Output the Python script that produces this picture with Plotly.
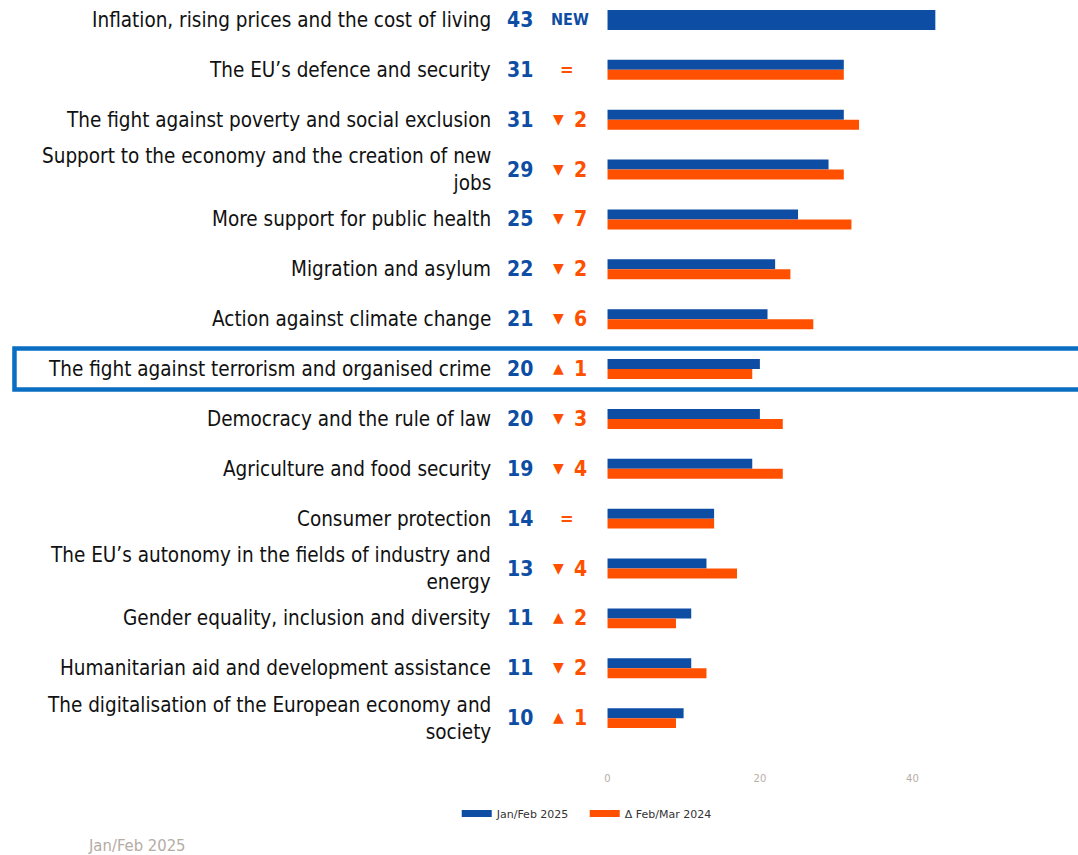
import plotly.graph_objects as go

categories = [
    "Inflation, rising prices and the cost of living",
    "The EU’s defence and security",
    "The fight against poverty and social exclusion",
    "Support to the economy and the creation of new<br>jobs",
    "More support for public health",
    "Migration and asylum",
    "Action against climate change",
    "The fight against terrorism and organised crime",
    "Democracy and the rule of law",
    "Agriculture and food security",
    "Consumer protection",
    "The EU’s autonomy in the fields of industry and<br>energy",
    "Gender equality, inclusion and diversity",
    "Humanitarian aid and development assistance",
    "The digitalisation of the European economy and<br>society",
]
jan_feb_2025 = [43, 31, 31, 29, 25, 22, 21, 20, 20, 19, 14, 13, 11, 11, 10]
feb_mar_2024 = [None, 31, 33, 31, 32, 24, 27, 19, 23, 23, 14, 17, 9, 13, 9]
delta_labels = ["NEW", "=", "▼ 2", "▼ 2", "▼ 7", "▼ 2", "▼ 6", "▲ 1", "▼ 3", "▼ 4",
                "=", "▼ 4", "▲ 2", "▼ 2", "▲ 1"]
x_ticks = [0, 20, 40]
highlight_row = 7

BLUE = "#0E4DA4"
ORANGE = "#FF5000"
FONT = "Liberation Sans Narrow, DejaVu Sans Condensed, Roboto, sans-serif"

idx = list(range(len(categories)))
blue_width = [0.4 if v is None else 0.2 for v in feb_mar_2024]
blue_offset = [-0.2 for v in feb_mar_2024]

fig = go.Figure()
fig.add_trace(go.Bar(
    y=idx, x=jan_feb_2025, orientation="h", name="Jan/Feb 2025",
    marker=dict(color=BLUE, line=dict(width=0)),
    width=blue_width, offset=blue_offset, hoverinfo="skip", showlegend=False,
))
fig.add_trace(go.Bar(
    y=idx, x=feb_mar_2024, orientation="h", name="Δ Feb/Mar 2024",
    marker=dict(color=ORANGE, line=dict(width=0)),
    width=0.2, offset=0.0, hoverinfo="skip", showlegend=False,
))
# legend entries (line swatches mimic the wide rectangular keys)
fig.add_trace(go.Scatter(x=[None], y=[None], mode="lines", name="Jan/Feb 2025",
                         line=dict(color=BLUE, width=7)))
fig.add_trace(go.Scatter(x=[None], y=[None], mode="lines", name="Δ Feb/Mar 2024",
                         line=dict(color=ORANGE, width=7)))

annotations = []
for i, (cat, v, d) in enumerate(zip(categories, jan_feb_2025, delta_labels)):
    annotations.append(dict(
        x=491 / 1078, y=i, xref="paper", yref="y", text=cat, showarrow=False,
        xanchor="right", yanchor="middle", align="right",
        font=dict(family=FONT, size=20.5, color="#111111"),
    ))
    annotations.append(dict(
        x=518 / 1078, y=i, xref="paper", yref="y", text=f"<b>{v}</b>", showarrow=False,
        xanchor="center", yanchor="middle",
        font=dict(family=FONT, size=21, color=BLUE),
    ))
    if d == "NEW":
        annotations.append(dict(
            x=569 / 1078, y=i, xref="paper", yref="y", text="<b>NEW</b>", showarrow=False,
            xanchor="center", yanchor="middle",
            font=dict(family=FONT, size=16, color=BLUE),
        ))
    elif d == "=":
        annotations.append(dict(
            x=566 / 1078, y=i, xref="paper", yref="y", text="<b>=</b>", showarrow=False,
            xanchor="center", yanchor="middle",
            font=dict(family=FONT, size=18, color=ORANGE),
        ))
    else:
        sym, num = d.split(" ")
        annotations.append(dict(
            x=557 / 1078, y=i, xref="paper", yref="y", text=sym, showarrow=False,
            xanchor="center", yanchor="middle", yshift=1,
            font=dict(family="DejaVu Sans, sans-serif", size=14, color=ORANGE),
        ))
        annotations.append(dict(
            x=579 / 1078, y=i, xref="paper", yref="y", text=f"<b>{num}</b>", showarrow=False,
            xanchor="center", yanchor="middle",
            font=dict(family=FONT, size=21, color=ORANGE),
        ))

annotations.append(dict(
    x=83 / 1078, y=-(845 - 768) / 768, xref="paper", yref="paper", text="Jan/Feb 2025",
    showarrow=False, xanchor="left", yanchor="middle",
    font=dict(family=FONT, size=16.5, color="#B5ACA5"),
))

fig.update_layout(
    width=1078, height=855,
    margin=dict(l=0, r=0, t=0, b=87),
    paper_bgcolor="white", plot_bgcolor="white",
    barmode="overlay",
    showlegend=True,
    legend=dict(orientation="h", x=455 / 1078, y=-(799 - 768) / 768,
                xanchor="left", yanchor="top", itemwidth=30,
                entrywidth=83, entrywidthmode="pixels",
                font=dict(family="DejaVu Sans, sans-serif", size=11, color="#333333")),
    xaxis=dict(domain=[606 / 1078, 1], range=[0, 61.7], tickvals=x_ticks,
               showgrid=False, zeroline=False, showline=False, ticklabelstandoff=3,
               tickfont=dict(family="DejaVu Sans, sans-serif", size=10, color="#B9AEA4")),
    yaxis=dict(range=[15.0, -0.4], showticklabels=False, showgrid=False,
               zeroline=False, showline=False),
    annotations=annotations,
    shapes=[dict(type="rect", xref="paper", yref="y",
                 x0=11.5 / 1078, x1=1.01, y0=highlight_row - 0.41, y1=highlight_row + 0.41,
                 line=dict(color="#0A6FC2", width=4.5), fillcolor="rgba(0,0,0,0)")],
)

fig.write_html("out.html", config={"displayModeBar": False},
               post_script="document.body.style.margin='0';")
